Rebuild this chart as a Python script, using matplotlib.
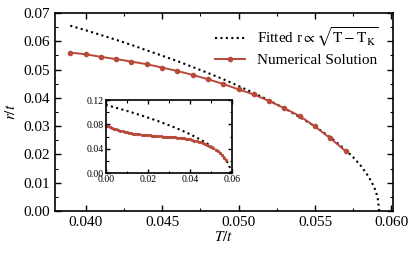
import numpy as np
import matplotlib
matplotlib.use("Agg")
import matplotlib.pyplot as plt
from matplotlib.ticker import MultipleLocator

plt.rcParams['font.family'] = ['Liberation Serif', 'DejaVu Serif']
plt.rcParams['mathtext.fontset'] = 'stix'

# Numerical solution r/t vs T/t
T_num = [0.000, 0.001, 0.002, 0.003, 0.004, 0.005, 0.006, 0.007, 0.008, 0.009,
         0.010, 0.011, 0.012, 0.013, 0.014, 0.015, 0.016, 0.017, 0.018, 0.019,
         0.020, 0.021, 0.022, 0.023, 0.024, 0.025, 0.026, 0.027, 0.028, 0.029,
         0.030, 0.031, 0.032, 0.033, 0.034, 0.035, 0.036, 0.037, 0.038, 0.039,
         0.040, 0.041, 0.042, 0.043, 0.044, 0.045, 0.046, 0.047, 0.048, 0.049,
         0.050, 0.051, 0.052, 0.053, 0.054, 0.055, 0.056, 0.057]
r_num = [0.0780, 0.0768, 0.0756, 0.0744, 0.0732, 0.0721, 0.0710, 0.0700, 0.0690, 0.0681,
         0.0673, 0.0665, 0.0658, 0.0652, 0.0646, 0.0641, 0.0637, 0.0633, 0.0630, 0.0627,
         0.0624, 0.0621, 0.0618, 0.0615, 0.0612, 0.0609, 0.0606, 0.0603, 0.0601, 0.0599,
         0.0597, 0.0595, 0.0592, 0.0589, 0.0585, 0.0581, 0.0577, 0.0572, 0.0566, 0.0560,
         0.0554, 0.0545, 0.0537, 0.0528, 0.0519, 0.0507, 0.0495, 0.0481, 0.0466, 0.0449,
         0.0430, 0.0412, 0.0389, 0.0363, 0.0336, 0.0299, 0.0257, 0.0212]

# Fitted curve r ~ sqrt(T - T_K)
T_fit = [0.000, 0.002, 0.004, 0.006, 0.008, 0.010, 0.012, 0.014, 0.016, 0.018,
         0.020, 0.022, 0.024, 0.026, 0.028, 0.030, 0.032, 0.034, 0.036, 0.038,
         0.039, 0.040, 0.041, 0.042, 0.043, 0.044, 0.045, 0.046, 0.047, 0.048,
         0.049, 0.050, 0.051, 0.052, 0.053, 0.054, 0.055, 0.056, 0.057, 0.0575,
         0.058, 0.0585, 0.0588, 0.0589, 0.059, 0.0591, 0.0592]
r_fit = [0.1122, 0.1103, 0.1083, 0.1063, 0.1043, 0.1023, 0.1002, 0.0980, 0.0958, 0.0936,
         0.0913, 0.0889, 0.0865, 0.0840, 0.0814, 0.0788, 0.0760, 0.0732, 0.0702, 0.0671,
         0.0655, 0.0639, 0.0622, 0.0605, 0.0587, 0.0568, 0.0549, 0.0530, 0.0509, 0.0488,
         0.0466, 0.0442, 0.0417, 0.0391, 0.0363, 0.0332, 0.0299, 0.0261, 0.0216, 0.0190,
         0.0160, 0.0122, 0.0092, 0.0080, 0.0065, 0.0046, 0.0000]

red = '#b84a3a'
T_num = np.array(T_num); r_num = np.array(r_num)
T_fit = np.array(T_fit); r_fit = np.array(r_fit)


def style_axes(ax, size, major, minor):
    ax.tick_params(which='both', direction='in', top=True, right=True, labelsize=size)
    ax.tick_params(which='major', length=major, width=1.0)
    ax.tick_params(which='minor', length=minor, width=0.8)
    for s in ax.spines.values():
        s.set_linewidth(1.2)


fig = plt.figure(figsize=(4.15, 2.54), dpi=100)
ax = fig.add_axes([0.1325, 0.169, 0.8145, 0.78])

m = T_fit >= 0.039
ax.plot(T_fit[m], r_fit[m], color='black', linestyle=(0, (1, 1.6)), lw=1.5,
        label=r'Fitted r$\propto\sqrt{\mathrm{T-T_K}}$')
m2 = T_num >= 0.039
ax.plot(T_num[m2], r_num[m2], color=red, lw=1.4, marker='o', ms=3,
        label='Numerical Solution')

ax.set_xlim(0.038, 0.0601)
ax.set_ylim(0, 0.07)
ax.xaxis.set_major_locator(MultipleLocator(0.005))
ax.xaxis.set_minor_locator(MultipleLocator(0.0025))
ax.yaxis.set_major_locator(MultipleLocator(0.01))
ax.yaxis.set_minor_locator(MultipleLocator(0.005))
ax.xaxis.set_major_formatter(matplotlib.ticker.FormatStrFormatter('%.3f'))
ax.yaxis.set_major_formatter(matplotlib.ticker.FormatStrFormatter('%.2f'))
style_axes(ax, 11, 4, 2.5)
ax.set_xlabel(r'$T/t$', fontsize=11, labelpad=1)
ax.set_ylabel(r'$r/t$', fontsize=11, labelpad=4)

ax.legend(loc='upper right', frameon=False, fontsize=11, handlelength=2.0,
          handletextpad=0.8, labelspacing=0.3, borderaxespad=0.2,
          bbox_to_anchor=(0.985, 0.985))

# inset with the full temperature range
ins = fig.add_axes([0.2547, 0.3177, 0.3053, 0.2883])
ins.plot(T_fit, r_fit, color='black', linestyle=(0, (1, 1.6)), lw=1.5)
ins.plot(T_num, r_num, color=red, lw=0.9, marker='o', ms=1.3)
ins.set_xlim(0, 0.06)
ins.set_ylim(0, 0.12)
ins.xaxis.set_major_locator(MultipleLocator(0.02))
ins.xaxis.set_minor_locator(MultipleLocator(0.01))
ins.yaxis.set_major_locator(MultipleLocator(0.04))
ins.yaxis.set_minor_locator(MultipleLocator(0.02))
ins.xaxis.set_major_formatter(matplotlib.ticker.FormatStrFormatter('%.2f'))
ins.yaxis.set_major_formatter(matplotlib.ticker.FormatStrFormatter('%.2f'))
style_axes(ins, 7, 3, 1.8)
ins.tick_params(pad=1.5)

fig.savefig('out.png', dpi=100)
